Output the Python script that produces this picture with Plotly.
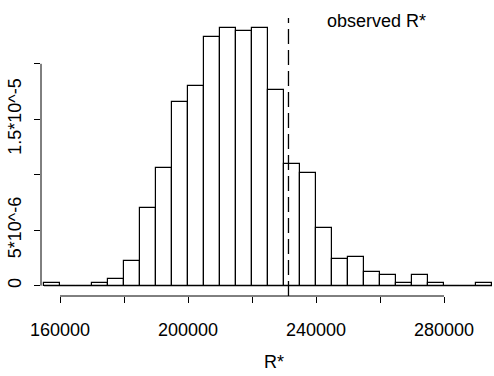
import plotly.graph_objects as go

# ---- data ----
bin_lefts = [155000, 160000, 165000, 170000, 175000, 180000, 185000, 190000,
             195000, 200000, 205000, 210000, 215000, 220000, 225000, 230000,
             235000, 240000, 245000, 250000, 255000, 260000, 265000, 270000,
             275000, 280000, 285000, 290000]
bin_width = 5000
density = [2e-7, 0, 0, 2e-7, 6e-7, 2.2e-6, 7.0e-6, 1.06e-5,
           1.66e-5, 1.8e-5, 2.24e-5, 2.32e-5, 2.3e-5, 2.32e-5, 1.76e-5, 1.1e-5,
           1.02e-5, 5.2e-6, 2.4e-6, 2.6e-6, 1.2e-6, 1.0e-6, 2e-7, 1.0e-6,
           2e-7, 0, 0, 2e-7]
observed_R = 231400

x_tickvals = [160000, 180000, 200000, 220000, 240000, 260000, 280000]
x_ticktext = ["160000", "", "200000", "", "240000", "", "280000"]
y_tickvals = [0, 5e-6, 1e-5, 1.5e-5, 2e-5]
y_ticktext = ["0", "5*10^-6", "", "1.5*10^-5", ""]

FONT = "Liberation Sans, Arial, Helvetica, sans-serif"
FS = 18

centers = [b + bin_width / 2 for b in bin_lefts]

fig = go.Figure()
fig.add_trace(go.Bar(
    x=centers, y=density, width=bin_width,
    marker=dict(color="white", line=dict(color="black", width=1.2)),
    hoverinfo="skip", showlegend=False,
))

shapes = [
    dict(type="line", xref="x", yref="y", x0=bin_lefts[0], x1=bin_lefts[-1] + bin_width,
         y0=0, y1=0, line=dict(color="black", width=1.2)),
    dict(type="line", xref="x", yref="paper", x0=x_tickvals[0], x1=x_tickvals[-1],
         y0=0, y1=0, line=dict(color="black", width=1)),
    dict(type="line", xref="paper", yref="y", x0=0, x1=0,
         y0=y_tickvals[0], y1=y_tickvals[-1], line=dict(color="black", width=1)),
    dict(type="line", xref="x", yref="paper", x0=observed_R, x1=observed_R,
         y0=0, y1=1, line=dict(color="black", width=1.3, dash="15px,6px")),
]

annotations = [
    dict(text="observed R*", xref="x", yref="paper", x=259000, y=0.991,
         xanchor="center", yanchor="middle", showarrow=False,
         font=dict(family=FONT, size=FS, color="black")),
    dict(text="R*", xref="x", yref="paper", x=226800, y=-0.238,
         xanchor="center", yanchor="middle", showarrow=False,
         font=dict(family=FONT, size=FS, color="black")),
]

fig.update_layout(
    width=494, height=376,
    margin=dict(l=41, r=0, t=18, b=80, pad=0),
    paper_bgcolor="white", plot_bgcolor="white",
    bargap=0,
    shapes=shapes, annotations=annotations,
    font=dict(family=FONT, size=FS, color="black"),
    xaxis=dict(range=[154060, 295625], showgrid=False, zeroline=False, showline=False,
               ticks="outside", ticklen=6, tickwidth=1, tickcolor="black",
               tickvals=x_tickvals, ticktext=x_ticktext, ticklabelstandoff=11,
               tickfont=dict(family=FONT, size=FS, color="black")),
    yaxis=dict(range=[-0.928e-6, 2.413e-5], showgrid=False, zeroline=False, showline=False,
               ticks="outside", ticklen=6, tickwidth=1, tickcolor="black",
               tickvals=y_tickvals, ticktext=y_ticktext, tickangle=-90, ticklabelstandoff=6,
               tickfont=dict(family=FONT, size=FS, color="black")),
)

fig.write_html("out.html")
